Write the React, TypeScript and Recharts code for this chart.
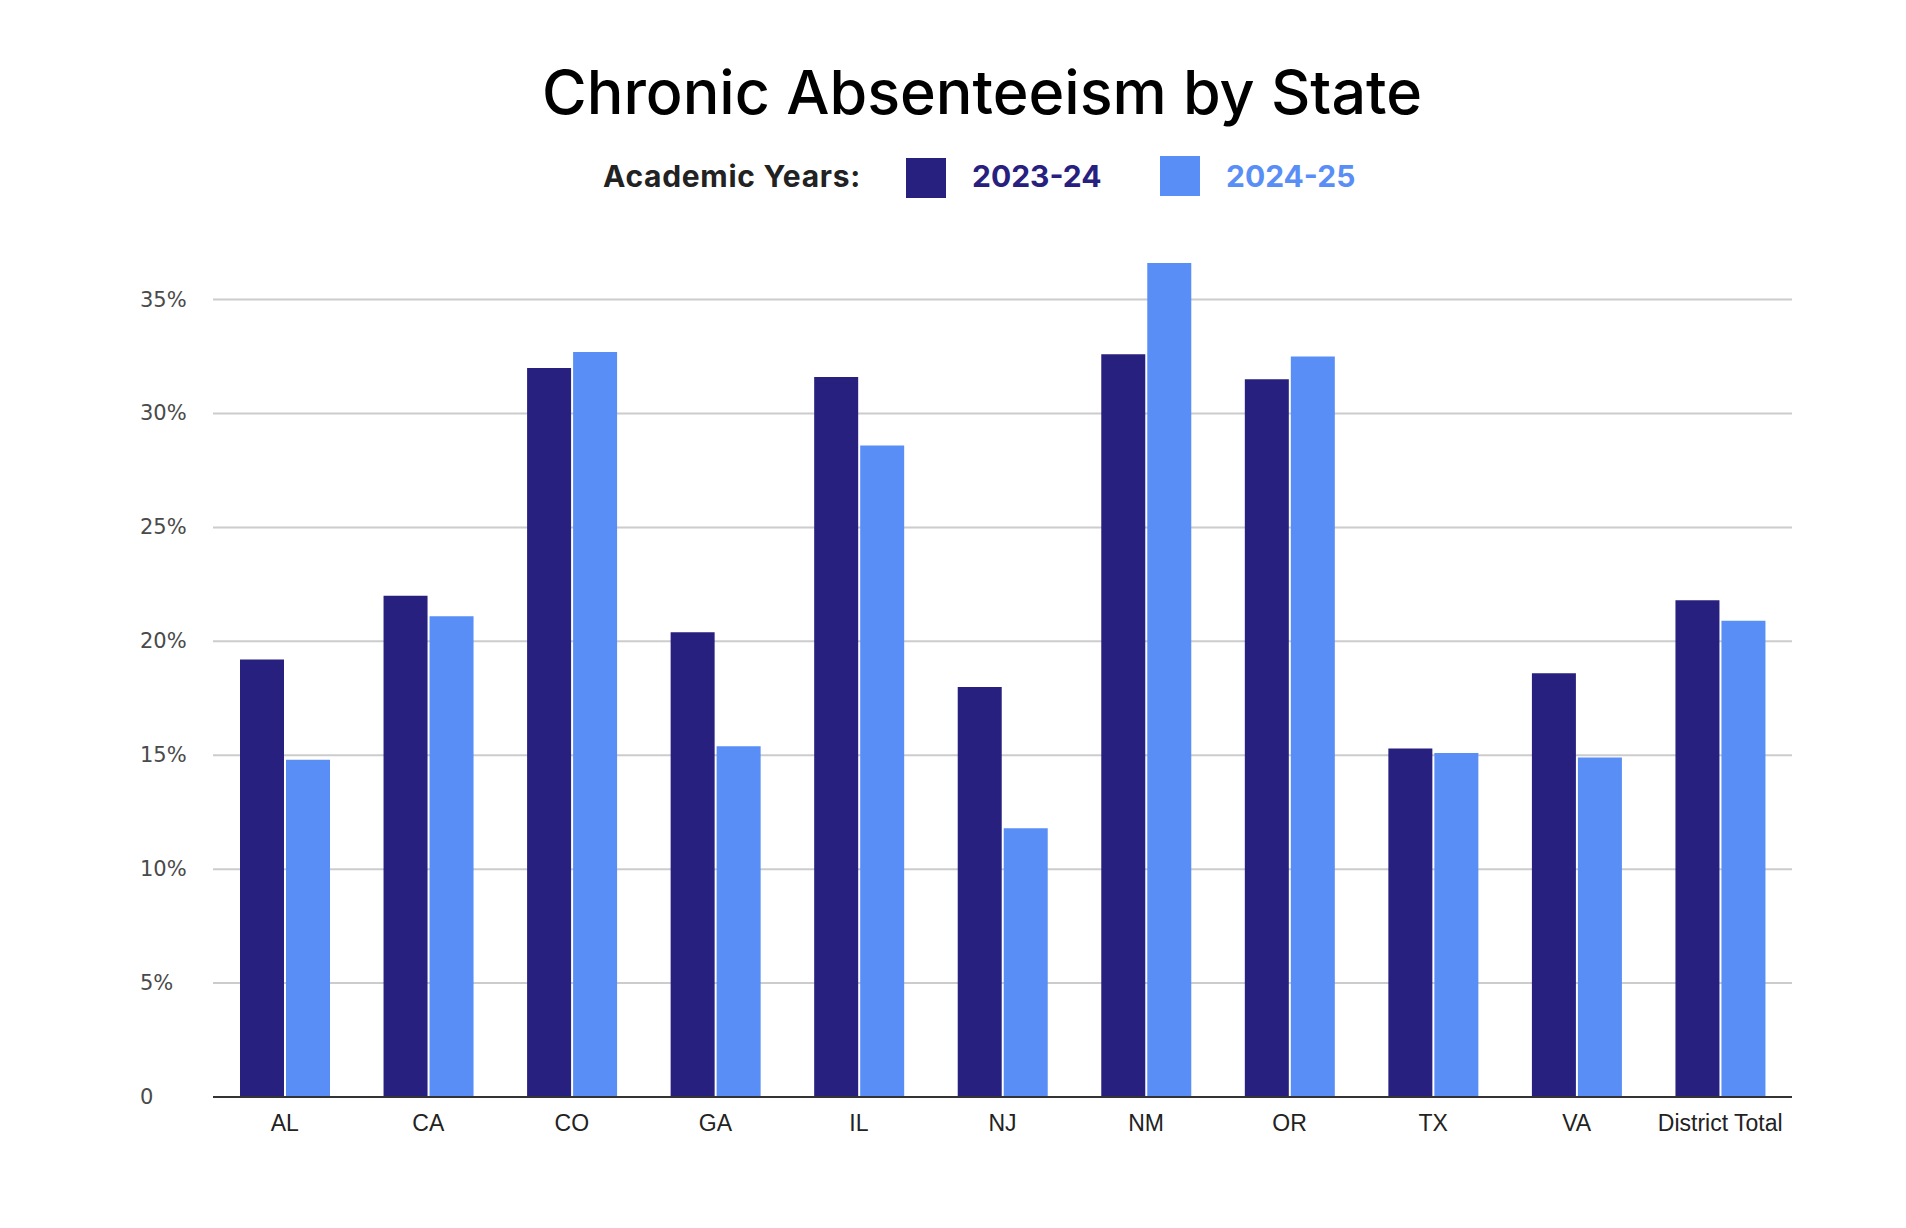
import { BarChart, Bar, XAxis, YAxis, CartesianGrid } from "recharts";

const states = ["AL", "CA", "CO", "GA", "IL", "NJ", "NM", "OR", "TX", "VA", "District Total"];
const year2023 = [19.2, 22.0, 32.0, 20.4, 31.6, 18.0, 32.6, 31.5, 15.3, 18.6, 21.8];
const year2024 = [14.8, 21.1, 32.7, 15.4, 28.6, 11.8, 36.6, 32.5, 15.1, 14.9, 20.9];
const yTicks = [0, 5, 10, 15, 20, 25, 30, 35];

const DARK = "#27207e";
const LIGHT = "#588ef6";

const data = states.map((name, i) => ({
  name,
  y2023: year2023[i],
  y2024: year2024[i],
}));

const YTick = (props: any) => {
  const { y, payload } = props;
  return (
    <text
      x={140}
      y={y}
      textAnchor="start"
      dominantBaseline="central"
      fill="#4a4a4a"
      fontSize={21}
      fontFamily="DejaVu Sans"
    >
      {payload.value === 0 ? "0" : `${payload.value}%`}
    </text>
  );
};

const XTick = (props: any) => {
  const { x, y, payload } = props;
  return (
    <text
      x={x}
      y={y + 18}
      textAnchor="middle"
      dominantBaseline="central"
      fill="#222"
      fontSize={23}
      fontFamily="Liberation Sans"
    >
      {payload.value}
    </text>
  );
};

export default function App() {
  return (
    <div style={{ position: "absolute", left: 0, top: 0, width: 1906, height: 1228, background: "#fff" }}>
      <div
        style={{
          position: "absolute",
          left: 29,
          width: 1906,
          top: 56,
          textAlign: "center",
          fontFamily: "Inter",
          fontWeight: 500,
          fontSize: 61,
          color: "#000",
          lineHeight: "72px",
        }}
      >
        Chronic Absenteeism by State
      </div>
      <div style={{ fontFamily: "Inter", fontWeight: 700, fontSize: 30 }}>
        <div
          style={{ position: "absolute", left: 603, top: 156, lineHeight: "40px", color: "#222", letterSpacing: 0.7 }}
        >
          Academic Years:
        </div>
        <div style={{ position: "absolute", left: 906, top: 158, width: 40, height: 40, background: DARK }} />
        <div style={{ position: "absolute", left: 972, top: 156, lineHeight: "40px", color: DARK }}>2023-24</div>
        <div style={{ position: "absolute", left: 1160, top: 156, width: 40, height: 40, background: LIGHT }} />
        <div style={{ position: "absolute", left: 1226, top: 156, lineHeight: "40px", color: LIGHT }}>2024-25</div>
      </div>
      <div style={{ position: "absolute", left: 0, top: 0 }}>
        <BarChart
          width={1906}
          height={1228}
          data={data}
          margin={{ top: 254, right: 114, bottom: 91, left: 140 }}
          barSize={44}
          barGap={2}
        >
          <CartesianGrid vertical={false} stroke="#cccccc" strokeWidth={2} horizontalValues={yTicks} />
          <XAxis
            dataKey="name"
            tickLine={false}
            axisLine={{ stroke: "#333", strokeWidth: 2 }}
            tick={<XTick />}
            interval={0}
            height={40}
          />
          <YAxis
            domain={[0, 37]}
            ticks={yTicks}
            axisLine={false}
            tickLine={false}
            tick={<YTick />}
            width={73}
          />
          <Bar dataKey="y2023" fill={DARK} isAnimationActive={false} />
          <Bar dataKey="y2024" fill={LIGHT} isAnimationActive={false} />
        </BarChart>
      </div>
    </div>
  );
}
